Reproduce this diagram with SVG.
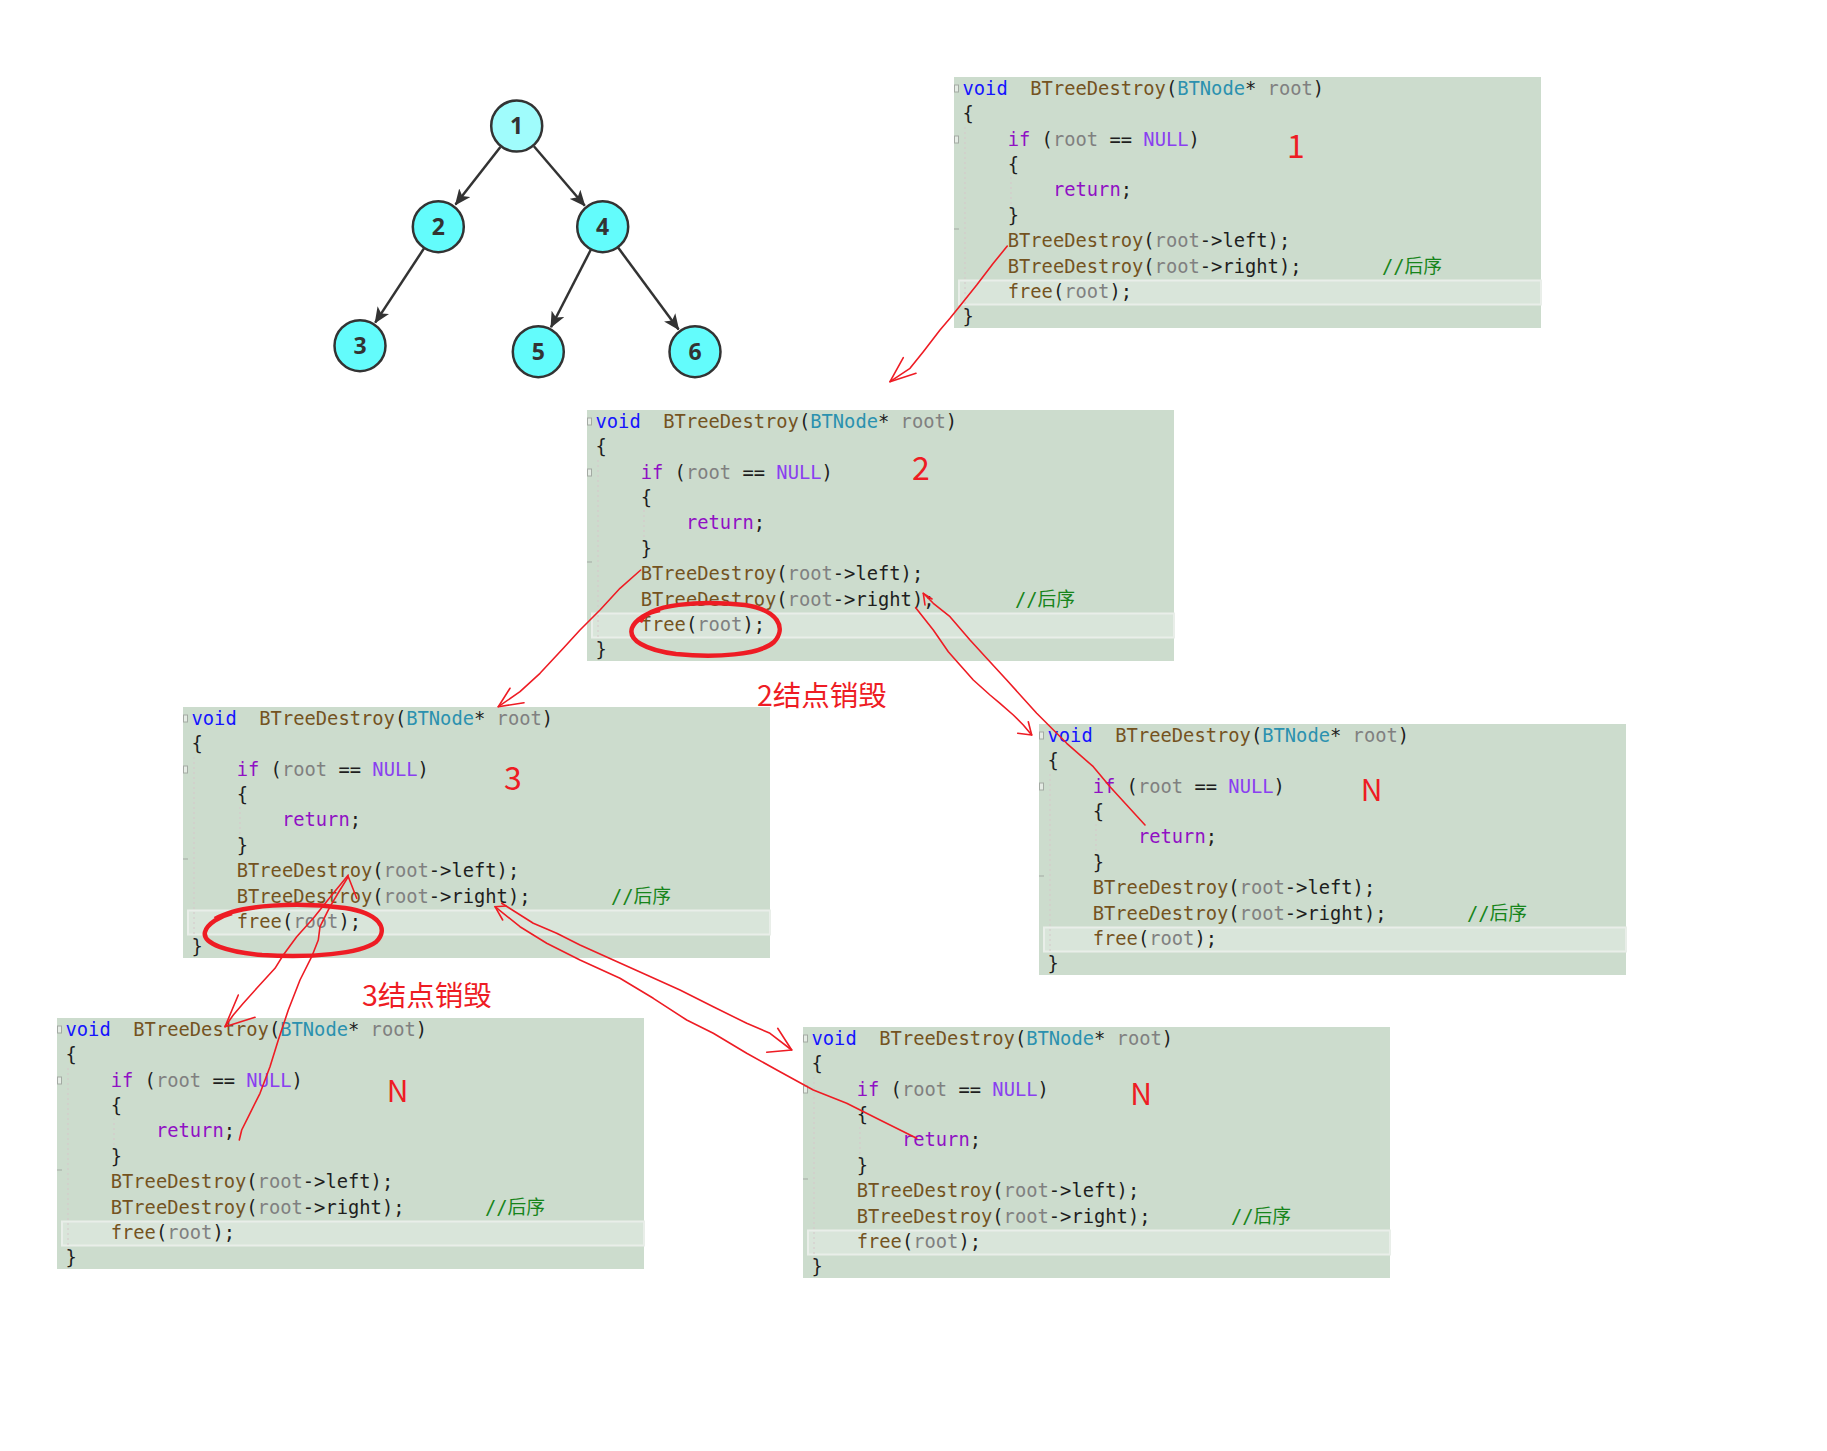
<svg xmlns="http://www.w3.org/2000/svg" width="1827" height="1451" viewBox="0 0 1827 1451">
<defs>
<style>
.bg{fill:#ccdccd}
.band{fill:#d9e5da;stroke:#e9eee9;stroke-width:2}
.code{font-family:"DejaVu Sans Mono","Liberation Mono","Noto Sans CJK SC",monospace;font-size:18.77px;fill:#1e1e1e;white-space:pre}
.kw{fill:#1414ff}.fn{fill:#74531f}.ty{fill:#2b91af}.pm{fill:#808080}.ct{fill:#9010c4}.mc{fill:#8a3ff0}.cm{fill:#17851b}
.guide{stroke:#d6c7ca;stroke-width:1;stroke-dasharray:2 3;fill:none}
.fold{fill:#e4ebe4;stroke:#a3aaa3;stroke-width:1}
.red{fill:none;stroke:#ee1c24;stroke-width:1.6;stroke-linejoin:round;stroke-linecap:round}
.ring{fill:none;stroke:#ee1c24;stroke-width:4.5}
.lbl{font-family:"Noto Sans CJK SC","Noto Sans",sans-serif;fill:#ee1c24}
.nc{stroke:#333;stroke-width:2.5;fill:#63fcfc}
.nt{font-family:"Open Sans","Liberation Sans",sans-serif;font-weight:bold;font-size:23px;fill:#333;text-anchor:middle}
.edge{stroke:#333;stroke-width:2.5;fill:none;marker-end:url(#ah)}
</style>
<marker id="ah" markerUnits="userSpaceOnUse" markerWidth="16" markerHeight="14" viewBox="0 0 16 14" refX="15" refY="7" orient="auto">
<path d="M0,0 L16,7 L0,14 L4,7 z" fill="#333"/>
</marker>
</defs>
<rect width="1827" height="1451" fill="#ffffff"/>

<!-- tree -->
<g id="tree-edges">
<line class="edge" x1="500.4" y1="146.9" x2="455.5" y2="204.6"/>
<line class="edge" x1="533.9" y1="146.2" x2="584.8" y2="205.7"/>
<line class="edge" x1="424" y1="248.4" x2="375.2" y2="322.6"/>
<line class="edge" x1="590.8" y1="249.8" x2="551" y2="327.2"/>
<line class="edge" x1="618.1" y1="247.6" x2="678.6" y2="329.4"/>
</g>
<g id="n1"><circle class="nc" cx="516.7" cy="126" r="25.5" style="fill:#a0fcfc"/><text class="nt" x="516.7" y="134">1</text></g>
<g id="n2"><circle class="nc" cx="438.3" cy="226.7" r="25.5"/><text class="nt" x="438.3" y="234.7">2</text></g>
<g id="n4"><circle class="nc" cx="602.7" cy="226.7" r="25.5"/><text class="nt" x="602.7" y="234.7">4</text></g>
<g id="n3"><circle class="nc" cx="360" cy="345.7" r="25.5"/><text class="nt" x="360" y="353.7">3</text></g>
<g id="n5"><circle class="nc" cx="538.3" cy="351.7" r="25.5"/><text class="nt" x="538.3" y="359.7">5</text></g>
<g id="n6"><circle class="nc" cx="695" cy="351.7" r="25.5"/><text class="nt" x="695" y="359.7">6</text></g>

<!-- code boxes -->
<g id="box1" transform="translate(954,77)">
<rect class="bg" width="587" height="251"/>
<rect class="band" x="5" y="203.5" width="582" height="24"/>
<line class="guide" x1="11" y1="50" x2="11" y2="236"/>
<line class="guide" x1="57" y1="100" x2="57" y2="128"/>
<rect class="fold" x="0.5" y="8" width="4" height="7"/><rect class="fold" x="0.5" y="59" width="4" height="7"/>
<line x1="0" y1="152" x2="5" y2="152" stroke="#a3aaa3" stroke-width="1"/>
<text class="code" x="8.5" y="17.7"><tspan class="kw">void</tspan>  <tspan class="fn">BTreeDestroy</tspan>(<tspan class="ty">BTNode</tspan>* <tspan class="pm">root</tspan>)</text>
<text class="code" x="8.5" y="43.1">{</text>
<text class="code" x="8.5" y="68.5">    <tspan class="ct">if</tspan> (<tspan class="pm">root</tspan> == <tspan class="mc">NULL</tspan>)</text>
<text class="code" x="8.5" y="93.9">    {</text>
<text class="code" x="8.5" y="119.3">        <tspan class="ct">return</tspan>;</text>
<text class="code" x="8.5" y="144.7">    }</text>
<text class="code" x="8.5" y="170.1">    <tspan class="fn">BTreeDestroy</tspan>(<tspan class="pm">root</tspan>-&gt;left);</text>
<text class="code" x="8.5" y="195.5">    <tspan class="fn">BTreeDestroy</tspan>(<tspan class="pm">root</tspan>-&gt;right);<tspan class="cm" x="428">//后序</tspan></text>
<text class="code" x="8.5" y="220.9">    <tspan class="fn">free</tspan>(<tspan class="pm">root</tspan>);</text>
<text class="code" x="8.5" y="246.3">}</text>
</g>

<g id="box2" transform="translate(587,410)">
<rect class="bg" width="587" height="251"/>
<rect class="band" x="5" y="203.5" width="582" height="24"/>
<line class="guide" x1="11" y1="50" x2="11" y2="236"/>
<line class="guide" x1="57" y1="100" x2="57" y2="128"/>
<rect class="fold" x="0.5" y="8" width="4" height="7"/><rect class="fold" x="0.5" y="59" width="4" height="7"/>
<line x1="0" y1="152" x2="5" y2="152" stroke="#a3aaa3" stroke-width="1"/>
<text class="code" x="8.5" y="17.7"><tspan class="kw">void</tspan>  <tspan class="fn">BTreeDestroy</tspan>(<tspan class="ty">BTNode</tspan>* <tspan class="pm">root</tspan>)</text>
<text class="code" x="8.5" y="43.1">{</text>
<text class="code" x="8.5" y="68.5">    <tspan class="ct">if</tspan> (<tspan class="pm">root</tspan> == <tspan class="mc">NULL</tspan>)</text>
<text class="code" x="8.5" y="93.9">    {</text>
<text class="code" x="8.5" y="119.3">        <tspan class="ct">return</tspan>;</text>
<text class="code" x="8.5" y="144.7">    }</text>
<text class="code" x="8.5" y="170.1">    <tspan class="fn">BTreeDestroy</tspan>(<tspan class="pm">root</tspan>-&gt;left);</text>
<text class="code" x="8.5" y="195.5">    <tspan class="fn">BTreeDestroy</tspan>(<tspan class="pm">root</tspan>-&gt;right);<tspan class="cm" x="428">//后序</tspan></text>
<text class="code" x="8.5" y="220.9">    <tspan class="fn">free</tspan>(<tspan class="pm">root</tspan>);</text>
<text class="code" x="8.5" y="246.3">}</text>
</g>

<g id="box3" transform="translate(183,707)">
<rect class="bg" width="587" height="251"/>
<rect class="band" x="5" y="203.5" width="582" height="24"/>
<line class="guide" x1="11" y1="50" x2="11" y2="236"/>
<line class="guide" x1="57" y1="100" x2="57" y2="128"/>
<rect class="fold" x="0.5" y="8" width="4" height="7"/><rect class="fold" x="0.5" y="59" width="4" height="7"/>
<line x1="0" y1="152" x2="5" y2="152" stroke="#a3aaa3" stroke-width="1"/>
<text class="code" x="8.5" y="17.7"><tspan class="kw">void</tspan>  <tspan class="fn">BTreeDestroy</tspan>(<tspan class="ty">BTNode</tspan>* <tspan class="pm">root</tspan>)</text>
<text class="code" x="8.5" y="43.1">{</text>
<text class="code" x="8.5" y="68.5">    <tspan class="ct">if</tspan> (<tspan class="pm">root</tspan> == <tspan class="mc">NULL</tspan>)</text>
<text class="code" x="8.5" y="93.9">    {</text>
<text class="code" x="8.5" y="119.3">        <tspan class="ct">return</tspan>;</text>
<text class="code" x="8.5" y="144.7">    }</text>
<text class="code" x="8.5" y="170.1">    <tspan class="fn">BTreeDestroy</tspan>(<tspan class="pm">root</tspan>-&gt;left);</text>
<text class="code" x="8.5" y="195.5">    <tspan class="fn">BTreeDestroy</tspan>(<tspan class="pm">root</tspan>-&gt;right);<tspan class="cm" x="428">//后序</tspan></text>
<text class="code" x="8.5" y="220.9">    <tspan class="fn">free</tspan>(<tspan class="pm">root</tspan>);</text>
<text class="code" x="8.5" y="246.3">}</text>
</g>

<g id="box4" transform="translate(1039,724)">
<rect class="bg" width="587" height="251"/>
<rect class="band" x="5" y="203.5" width="582" height="24"/>
<line class="guide" x1="11" y1="50" x2="11" y2="236"/>
<line class="guide" x1="57" y1="100" x2="57" y2="128"/>
<rect class="fold" x="0.5" y="8" width="4" height="7"/><rect class="fold" x="0.5" y="59" width="4" height="7"/>
<line x1="0" y1="152" x2="5" y2="152" stroke="#a3aaa3" stroke-width="1"/>
<text class="code" x="8.5" y="17.7"><tspan class="kw">void</tspan>  <tspan class="fn">BTreeDestroy</tspan>(<tspan class="ty">BTNode</tspan>* <tspan class="pm">root</tspan>)</text>
<text class="code" x="8.5" y="43.1">{</text>
<text class="code" x="8.5" y="68.5">    <tspan class="ct">if</tspan> (<tspan class="pm">root</tspan> == <tspan class="mc">NULL</tspan>)</text>
<text class="code" x="8.5" y="93.9">    {</text>
<text class="code" x="8.5" y="119.3">        <tspan class="ct">return</tspan>;</text>
<text class="code" x="8.5" y="144.7">    }</text>
<text class="code" x="8.5" y="170.1">    <tspan class="fn">BTreeDestroy</tspan>(<tspan class="pm">root</tspan>-&gt;left);</text>
<text class="code" x="8.5" y="195.5">    <tspan class="fn">BTreeDestroy</tspan>(<tspan class="pm">root</tspan>-&gt;right);<tspan class="cm" x="428">//后序</tspan></text>
<text class="code" x="8.5" y="220.9">    <tspan class="fn">free</tspan>(<tspan class="pm">root</tspan>);</text>
<text class="code" x="8.5" y="246.3">}</text>
</g>

<g id="box5" transform="translate(57,1018)">
<rect class="bg" width="587" height="251"/>
<rect class="band" x="5" y="203.5" width="582" height="24"/>
<line class="guide" x1="11" y1="50" x2="11" y2="236"/>
<line class="guide" x1="57" y1="100" x2="57" y2="128"/>
<rect class="fold" x="0.5" y="8" width="4" height="7"/><rect class="fold" x="0.5" y="59" width="4" height="7"/>
<line x1="0" y1="152" x2="5" y2="152" stroke="#a3aaa3" stroke-width="1"/>
<text class="code" x="8.5" y="17.7"><tspan class="kw">void</tspan>  <tspan class="fn">BTreeDestroy</tspan>(<tspan class="ty">BTNode</tspan>* <tspan class="pm">root</tspan>)</text>
<text class="code" x="8.5" y="43.1">{</text>
<text class="code" x="8.5" y="68.5">    <tspan class="ct">if</tspan> (<tspan class="pm">root</tspan> == <tspan class="mc">NULL</tspan>)</text>
<text class="code" x="8.5" y="93.9">    {</text>
<text class="code" x="8.5" y="119.3">        <tspan class="ct">return</tspan>;</text>
<text class="code" x="8.5" y="144.7">    }</text>
<text class="code" x="8.5" y="170.1">    <tspan class="fn">BTreeDestroy</tspan>(<tspan class="pm">root</tspan>-&gt;left);</text>
<text class="code" x="8.5" y="195.5">    <tspan class="fn">BTreeDestroy</tspan>(<tspan class="pm">root</tspan>-&gt;right);<tspan class="cm" x="428">//后序</tspan></text>
<text class="code" x="8.5" y="220.9">    <tspan class="fn">free</tspan>(<tspan class="pm">root</tspan>);</text>
<text class="code" x="8.5" y="246.3">}</text>
</g>

<g id="box6" transform="translate(803,1027)">
<rect class="bg" width="587" height="251"/>
<rect class="band" x="5" y="203.5" width="582" height="24"/>
<line class="guide" x1="11" y1="50" x2="11" y2="236"/>
<line class="guide" x1="57" y1="100" x2="57" y2="128"/>
<rect class="fold" x="0.5" y="8" width="4" height="7"/><rect class="fold" x="0.5" y="59" width="4" height="7"/>
<line x1="0" y1="152" x2="5" y2="152" stroke="#a3aaa3" stroke-width="1"/>
<text class="code" x="8.5" y="17.7"><tspan class="kw">void</tspan>  <tspan class="fn">BTreeDestroy</tspan>(<tspan class="ty">BTNode</tspan>* <tspan class="pm">root</tspan>)</text>
<text class="code" x="8.5" y="43.1">{</text>
<text class="code" x="8.5" y="68.5">    <tspan class="ct">if</tspan> (<tspan class="pm">root</tspan> == <tspan class="mc">NULL</tspan>)</text>
<text class="code" x="8.5" y="93.9">    {</text>
<text class="code" x="8.5" y="119.3">        <tspan class="ct">return</tspan>;</text>
<text class="code" x="8.5" y="144.7">    }</text>
<text class="code" x="8.5" y="170.1">    <tspan class="fn">BTreeDestroy</tspan>(<tspan class="pm">root</tspan>-&gt;left);</text>
<text class="code" x="8.5" y="195.5">    <tspan class="fn">BTreeDestroy</tspan>(<tspan class="pm">root</tspan>-&gt;right);<tspan class="cm" x="428">//后序</tspan></text>
<text class="code" x="8.5" y="220.9">    <tspan class="fn">free</tspan>(<tspan class="pm">root</tspan>);</text>
<text class="code" x="8.5" y="246.3">}</text>
</g>

<!-- annotations -->
<g id="labels">
<text class="lbl" x="1296" y="158" font-size="32" text-anchor="middle">1</text>
<text class="lbl" x="921" y="480" font-size="32" text-anchor="middle">2</text>
<text class="lbl" x="513" y="790" font-size="32" text-anchor="middle">3</text>
<text class="lbl" x="1371.5" y="801" font-size="30" text-anchor="middle">N</text>
<text class="lbl" x="397.5" y="1101.5" font-size="30" text-anchor="middle">N</text>
<text class="lbl" x="1141" y="1105" font-size="30" text-anchor="middle">N</text>
<text class="lbl" x="757" y="706" font-size="28.5">2结点销毁</text>
<text class="lbl" x="362" y="1006" font-size="28.5">3结点销毁</text>
</g>

<g id="rings">
<path class="ring" d="M640,622 C648,604 700,600 745,605 C778,610 787,628 774,642 C760,655 715,658 676,654 C645,650 628,640 632,628 C635,620 648,612 660,610"/>
<path class="ring" d="M215,919 C240,904 300,902 345,908 C378,913 390,928 376,942 C360,954 310,958 262,955 C228,952 202,944 205,932 C207,924 220,916 232,913"/>
</g>

<g id="connectors">
<polyline class="red" points="1007.3,246 993.3,263.3 976.7,285 963.3,301.7 950,318.3 940,330 923.3,351.7 910,368.3 890,381.7"/>
<polyline class="red" points="903.3,357.7 890,381.7 916,373.3"/>
<polyline class="red" points="640.7,570 620,588.3 600,610 580,630 563.3,648.3 540,673.3 520,691.7 498.3,706.7"/>
<polyline class="red" points="510,688.3 498.3,706.7 524,702.7"/>
<polyline class="red" points="915.7,607.7 933.3,630 948.3,651.7 960,665 973.3,680 990,695 1000,703.3 1013.3,715 1023.3,725 1031.7,735"/>
<polyline class="red" points="1028.3,721.7 1031.7,735 1017.7,733.3"/>
<polyline class="red" points="1145,825 1126.7,805 1110,786.7 1093.3,766.7 1066.7,743.3 1036.7,713.3 1006.7,680 986.7,658.3 970,640 950,616.7 933.3,603.3 923.3,593.3"/>
<polyline class="red" points="925,605 923.3,593.3 932,599"/>
<polyline class="red" points="348.3,875 333.3,893.3 313.3,918.3 296.7,936.7 283.3,955 275,968.3 256.7,988.3 243.3,1003.3 233.3,1015 225,1026.7"/>
<polyline class="red" points="238.3,995 225,1026.7 255,1017.3"/>
<polyline class="red" points="239.3,1140 241.7,1130 250,1113.3 260,1093.3 270,1066.7 278.3,1040 288.3,1010 300,980 311.7,956.7 318.3,940 320,926.7 330,906.7 340,890 348.3,876.7 356.7,898.3"/>
<polyline class="red" points="501.7,903.3 533.3,923.3 556.7,933.3 580,945 613.3,960 646.7,975 680,990 713.3,1006.7 746.7,1023.3 770,1033.3 791.7,1050"/>
<polyline class="red" points="777.7,1028.3 791.7,1050 766.7,1052.3"/>
<polyline class="red" points="916.7,1138.3 880,1120 846.7,1103.3 813.3,1090 780,1071.7 746.7,1053.3 713.3,1033.3 686.7,1020 653.3,998.3 620,978.3 580,960 546.7,943.3 520,926.7 495,906.7"/>
<polyline class="red" points="502.7,920 495,906.7 506,906"/>
</g>
</svg>
